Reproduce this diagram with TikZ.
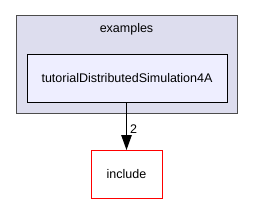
\documentclass[tikz,border=0pt]{standalone}
\usepackage{fontspec}
\setmainfont{Liberation Sans}
\usetikzlibrary{arrows.meta}
\definecolor{outerfill}{HTML}{DDDDEE}
\definecolor{innerfill}{HTML}{EEEEFF}
\tikzset{
  cluster/.style={draw=black!70, fill=outerfill, line width=1pt},
  dirbox/.style={draw=black, fill=innerfill, line width=1pt, inner sep=0pt},
  extbox/.style={draw=red, fill=white, line width=1pt, inner sep=0pt},
  lbl/.style={font=\fontsize{12.5}{14}\selectfont, inner sep=0pt},
  dep/.style={-{Triangle[length=15pt,width=10.5pt]}, line width=1pt}
}
\begin{document}
\begin{tikzpicture}[x=1pt,y=-1pt]
\useasboundingbox (0,0) rectangle (253,204);
\draw[cluster] (16,15.5) rectangle (237,113);
\node[lbl] (examples) at (126.5,29) {examples};
\node[dirbox, minimum width=200pt, minimum height=47.5pt] (tds) at (127,78.5) {};
\node[lbl] at (tds.center) {tutorialDistributedSimulation4A};
\node[extbox, minimum width=71pt, minimum height=48pt] (inc) at (126.5,174.5) {};
\node[lbl] at (inc.center) {include};
\draw[dep] (tds.south -| 126.5,0) -- node[lbl, right, pos=0.55, xshift=3pt] {2} (inc.north -| 126.5,0);
\end{tikzpicture}
\end{document}
